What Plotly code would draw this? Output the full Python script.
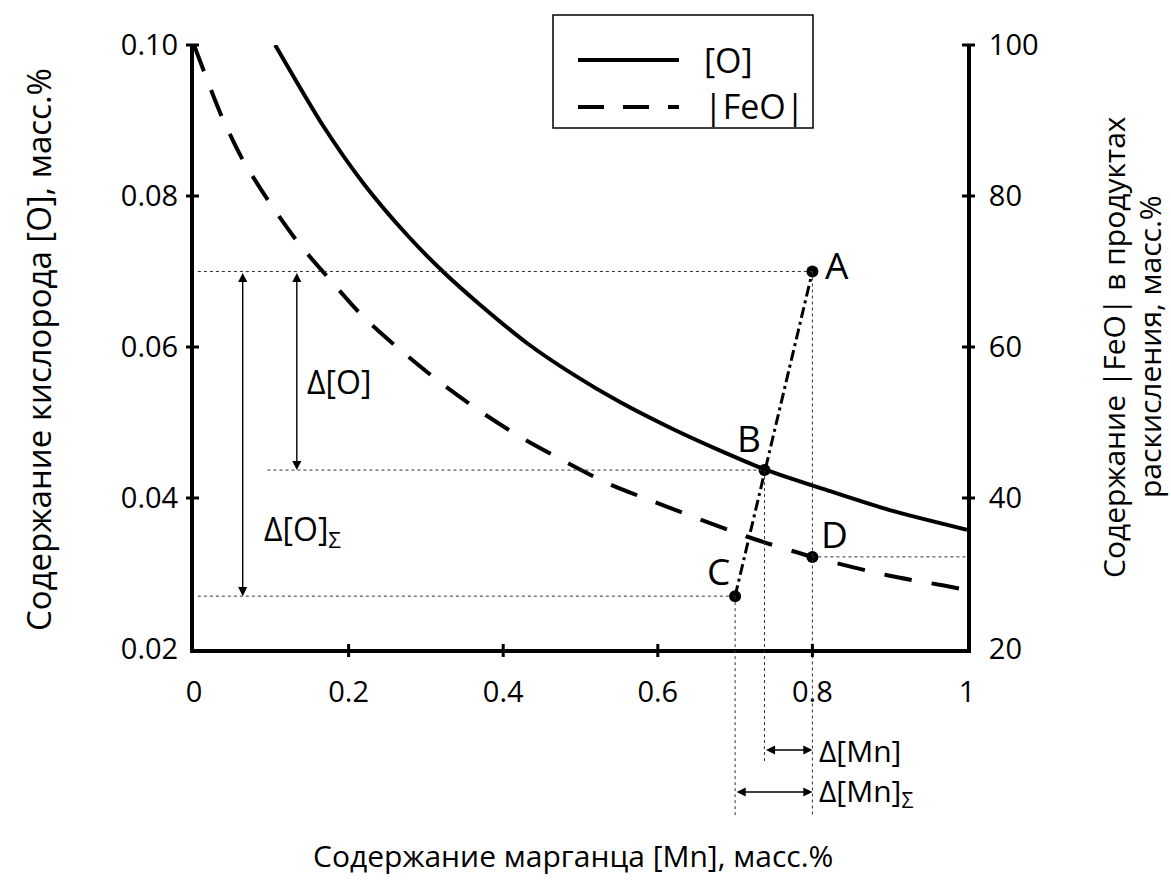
import plotly.graph_objects as go

# [O] equilibrium curve (left axis), Mn in mass %
mn_o = [0.105, 0.167, 0.219, 0.276, 0.323, 0.370, 0.431, 0.490, 0.551, 0.620, 0.680, 0.738, 0.823, 0.900, 1.000]
o_pct = [0.1000, 0.0893, 0.0817, 0.0748, 0.0699, 0.0656, 0.0605, 0.0564, 0.0527, 0.0491, 0.0463, 0.0438, 0.0409, 0.0384, 0.0358]

# |FeO| in deoxidation products (right axis)
mn_feo = [0.000, 0.036, 0.063, 0.098, 0.135, 0.176, 0.219, 0.267, 0.316, 0.367, 0.422, 0.477, 0.534, 0.590, 0.715, 0.800, 0.900, 0.970, 1.000]
feo_pct = [100.0, 90.5, 84.8, 79.1, 73.8, 68.9, 64.0, 59.6, 55.5, 51.7, 48.1, 45.0, 42.0, 39.7, 34.9, 32.2, 29.7, 28.4, 27.8]

# characteristic points (left-axis units)
pt_names = ["A", "B", "C", "D"]
pt_mn = [0.800, 0.738, 0.700, 0.800]
pt_o = [0.0700, 0.0437, 0.0270, 0.0322]

x_ticks = [0, 0.2, 0.4, 0.6, 0.8, 1]
x_ticktext = ["0", "0.2", "0.4", "0.6", "0.8", "1"]
y_ticks = [0.02, 0.04, 0.06, 0.08, 0.10]
y_ticktext = ["0.02", "0.04", "0.06", "0.08", "0.10"]
y2_ticks = [20, 40, 60, 80, 100]
y2_ticktext = ["20", "40", "60", "80", "100"]

X_RANGE = [0, 1]
Y_RANGE = [0.02, 0.10]
Y2_RANGE = [20, 100]

W, H = 1171, 886
ML, MR, MT, MB = 194, 204, 45, 237
PW, PH = W - ML - MR, H - MT - MB

FONT = "Open Sans, DejaVu Sans, sans-serif"


def px_x(p):
    return (p - ML) / PW


def px_y(p):
    return (H - MB - p) / PH


def yfrac(v):
    return (v - Y_RANGE[0]) / (Y_RANGE[1] - Y_RANGE[0])


def xfrac(v):
    return (v - X_RANGE[0]) / (X_RANGE[1] - X_RANGE[0])


A, B, C, D = [dict(x=m, y=o) for m, o in zip(pt_mn, pt_o)]

fig = go.Figure()

fig.add_trace(go.Scatter(
    x=mn_o, y=o_pct, mode="lines", yaxis="y",
    line=dict(color="black", width=4, shape="spline", smoothing=0.7),
    showlegend=False, hoverinfo="skip"))

fig.add_trace(go.Scatter(
    x=mn_feo, y=feo_pct, mode="lines", yaxis="y2",
    line=dict(color="black", width=4, shape="spline", smoothing=0.7, dash="28px,20px"),
    showlegend=False, hoverinfo="skip"))

# deoxidation path C -> A through B
fig.add_trace(go.Scatter(
    x=[C["x"], A["x"]], y=[C["y"], A["y"]], mode="lines", yaxis="y",
    line=dict(color="black", width=3, dash="11px,4px,3px,4px"),
    showlegend=False, hoverinfo="skip"))

fig.add_trace(go.Scatter(
    x=pt_mn, y=pt_o, mode="markers", yaxis="y",
    marker=dict(color="black", size=12),
    showlegend=False, hoverinfo="skip", cliponaxis=False))

shapes = []
guide = dict(color="#333333", width=1, dash="3px,3px")

# horizontal guides
shapes.append(dict(type="line", xref="x", yref="y", x0=0.005, x1=A["x"], y0=A["y"], y1=A["y"], line=guide))
shapes.append(dict(type="line", xref="x", yref="y", x0=0.095, x1=B["x"], y0=B["y"], y1=B["y"], line=guide))
shapes.append(dict(type="line", xref="x", yref="y", x0=0.005, x1=C["x"], y0=C["y"], y1=C["y"], line=guide))
shapes.append(dict(type="line", xref="x", yref="y", x0=D["x"], x1=1.0, y0=D["y"], y1=D["y"], line=guide))
# vertical guides down below the x axis
shapes.append(dict(type="line", xref="x", yref="paper", x0=A["x"], x1=A["x"], y0=yfrac(A["y"]), y1=px_y(817), line=guide))
shapes.append(dict(type="line", xref="x", yref="paper", x0=B["x"], x1=B["x"], y0=yfrac(B["y"]), y1=px_y(763), line=guide))
shapes.append(dict(type="line", xref="x", yref="paper", x0=C["x"], x1=C["x"], y0=yfrac(C["y"]), y1=px_y(817), line=guide))

# tick marks crossing the axis lines
tk = dict(color="black", width=3)
for v in y_ticks[1:]:
    yy = yfrac(v)
    shapes.append(dict(type="line", xref="paper", yref="paper", x0=-8 / PW, x1=5 / PW, y0=yy, y1=yy, line=tk))
for v in y2_ticks[1:]:
    yy = (v - Y2_RANGE[0]) / (Y2_RANGE[1] - Y2_RANGE[0])
    shapes.append(dict(type="line", xref="paper", yref="paper", x0=1 - 5 / PW, x1=1 + 8 / PW, y0=yy, y1=yy, line=tk))
for v in x_ticks[1:-1]:
    xx = xfrac(v)
    shapes.append(dict(type="line", xref="paper", yref="paper", x0=xx, x1=xx, y0=-8 / PH, y1=5 / PH, line=tk))

# legend box
shapes.append(dict(type="rect", xref="paper", yref="paper",
                   x0=px_x(553), x1=px_x(813), y0=px_y(128), y1=px_y(15),
                   line=dict(color="black", width=1.5), fillcolor="white"))
shapes.append(dict(type="line", xref="paper", yref="paper", x0=px_x(578), x1=px_x(679),
                   y0=px_y(60), y1=px_y(60), line=dict(color="black", width=4)))
shapes.append(dict(type="line", xref="paper", yref="paper", x0=px_x(578), x1=px_x(679),
                   y0=px_y(107), y1=px_y(107), line=dict(color="black", width=4, dash="26px,19px")))

annotations = []
txt = dict(family=FONT, color="black")

# legend labels
annotations.append(dict(xref="paper", yref="paper", x=px_x(702), y=px_y(60), text="[O]",
                        showarrow=False, xanchor="left", yanchor="middle", font=dict(size=34, **txt)))
annotations.append(dict(xref="paper", yref="paper", x=px_x(702), y=px_y(106), text="|FeO|",
                        showarrow=False, xanchor="left", yanchor="middle", font=dict(size=34, **txt)))

# point letters
offsets = {"A": (25, 7), "B": (-15, 33), "C": (-17, 26), "D": (22, 23)}
for n, m, o in zip(pt_names, pt_mn, pt_o):
    dx, dy = offsets[n]
    annotations.append(dict(x=m, y=o, xref="x", yref="y", text=n, showarrow=False,
                            xshift=dx, yshift=dy, xanchor="center", yanchor="middle",
                            font=dict(size=37, **txt)))

arrow = dict(showarrow=True, arrowhead=2, arrowside="end+start", arrowsize=1.3,
             arrowwidth=1.4, arrowcolor="black", standoff=0, startstandoff=0, text="")

# Δ[O] and Δ[O]Σ
annotations.append(dict(xref="x", yref="y", axref="x", ayref="y",
                        x=0.133, y=B["y"], ax=0.133, ay=A["y"], **arrow))
annotations.append(dict(xref="x", yref="y", axref="x", ayref="y",
                        x=0.063, y=C["y"], ax=0.063, ay=A["y"], **arrow))
annotations.append(dict(xref="x", yref="y", x=0.143, y=0.0554, text="Δ[O]", showarrow=False,
                        xanchor="left", yanchor="middle", font=dict(size=32, **txt)))
annotations.append(dict(xref="x", yref="y", x=0.088, y=0.0356, text="Δ[O]<sub>Σ</sub>", showarrow=False,
                        xanchor="left", yanchor="middle", font=dict(size=32, **txt)))

# Δ[Mn] and Δ[Mn]Σ
annotations.append(dict(xref="x", yref="paper", axref="x", ayref="pixel",
                        x=A["x"], y=px_y(750), ax=B["x"], ay=0, **arrow))
annotations.append(dict(xref="x", yref="paper", axref="x", ayref="pixel",
                        x=A["x"], y=px_y(792), ax=C["x"], ay=0, **arrow))
annotations.append(dict(xref="x", yref="paper", x=A["x"], y=px_y(750), xshift=5, text="Δ[Mn]",
                        showarrow=False, xanchor="left", yanchor="middle", font=dict(size=30, **txt)))
annotations.append(dict(xref="x", yref="paper", x=A["x"], y=px_y(792), xshift=5, text="Δ[Mn]<sub>Σ</sub>",
                        showarrow=False, xanchor="left", yanchor="middle", font=dict(size=30, **txt)))

# axis titles
annotations.append(dict(xref="paper", yref="paper", x=px_x(38), y=px_y(350),
                        text="Содержание кислорода [O], масс.%", textangle=-90, showarrow=False,
                        xanchor="center", yanchor="middle", font=dict(size=33, **txt)))
annotations.append(dict(xref="paper", yref="paper", x=px_x(1113), y=px_y(347),
                        text="Содержание |FeO| в продуктах", textangle=-90,
                        showarrow=False, xanchor="center", yanchor="middle",
                        font=dict(size=30, **txt)))
annotations.append(dict(xref="paper", yref="paper", x=px_x(1149), y=px_y(347),
                        text="раскисления, масс.%", textangle=-90,
                        showarrow=False, xanchor="center", yanchor="middle",
                        font=dict(size=30, **txt)))
annotations.append(dict(xref="paper", yref="paper", x=px_x(573), y=px_y(855),
                        text="Содержание марганца [Mn], масс.%", showarrow=False,
                        xanchor="center", yanchor="middle", font=dict(size=30, **txt)))

axis_common = dict(showgrid=False, zeroline=False, showline=True, linewidth=4, linecolor="black",
                   ticks="", tickfont=dict(family=FONT, size=29, color="black"))

fig.update_layout(
    width=W, height=H,
    margin=dict(l=ML, r=MR, t=MT, b=MB, pad=0),
    paper_bgcolor="white", plot_bgcolor="white",
    font=dict(family=FONT, color="black"),
    showlegend=False,
    xaxis=dict(range=X_RANGE, tickvals=x_ticks, ticktext=x_ticktext, ticklabelstandoff=14, **axis_common),
    yaxis=dict(range=Y_RANGE, tickvals=y_ticks, ticktext=y_ticktext, ticklabelstandoff=6, **axis_common),
    yaxis2=dict(range=Y2_RANGE, tickvals=y2_ticks, ticktext=y2_ticktext, overlaying="y", side="right",
                ticklabelstandoff=12, **axis_common),
    shapes=shapes,
    annotations=annotations,
)

fig.write_html("out.html")
